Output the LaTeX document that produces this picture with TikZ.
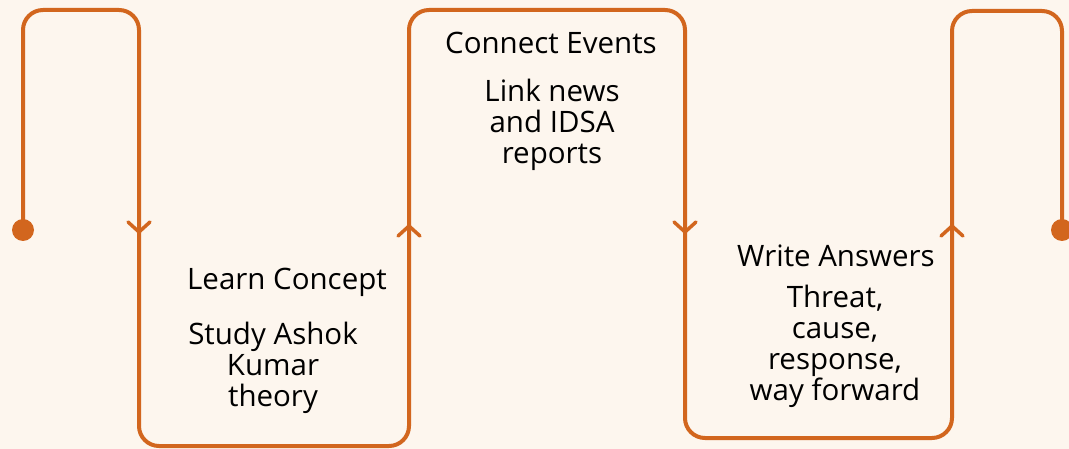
\documentclass[tikz,border=0pt]{standalone}
\usepackage{fontspec}
\setmainfont{Open Sans}
\definecolor{bgc}{HTML}{FDF6EE}
\definecolor{snake}{HTML}{D2661E}
\tikzset{
  track/.style={draw=snake,line width=4pt,rounded corners=20pt},
  chev/.style={draw=snake,line width=3.5pt,line cap=round,line join=miter},
  dotend/.style={circle,fill=snake,inner sep=0pt,minimum size=22pt},
  ttl/.style={font=\fontsize{29.5}{31}\selectfont,text=black,anchor=base,inner sep=0pt},
  dsc/.style={font=\fontsize{29.5}{31}\selectfont,text=black,anchor=base,align=center,inner sep=0pt},
}
\begin{document}
\begin{tikzpicture}[x=1pt,y=-1pt]
\fill[bgc] (0,0) rectangle (1069,449);
\useasboundingbox (0,0) rectangle (1069,449);
% path points
\node[dotend] (d1) at (23,230) {};
\node[dotend] (d2) at (1062,230) {};
\coordinate (p1) at (23,10);
\coordinate (p2) at (139,10);
\coordinate (p3) at (139,446);
\coordinate (p4) at (409,446);
\coordinate (p5) at (409,10);
\coordinate (p6) at (685,10);
\coordinate (p7) at (685,438);
\coordinate (p8) at (952,438);
\coordinate (p9) at (952,11);
\coordinate (p10) at (1062,11);
\path[track] (d1.center) -- (p1) -- (p2) -- (p3) -- (p4) -- (p5) -- (p6) -- (p7) -- (p8) -- (p9) -- (p10) -- (d2.center);
% chevrons
\draw[chev] (128,222) -- (139,232) -- (150,222);
\draw[chev] (398,236) -- (409,226) -- (420,236);
\draw[chev] (674,222) -- (685,232) -- (696,222);
\draw[chev] (941,236) -- (952,226) -- (963,236);
% texts (description nodes anchored at their last baseline)
\node[ttl] (t1) at (287,290) {Learn Concept};
\node[dsc] (s1) at (273,406) {Study Ashok\\Kumar\\theory};
\node[ttl] (t2) at (551,54) {Connect Events};
\node[dsc] (s2) at (552,164) {Link news\\and IDSA\\reports};
\node[ttl] (t3) at (836,267) {Write Answers};
\node[dsc] (s3) at (835,400) {Threat,\\cause,\\response,\\way forward};
\end{tikzpicture}
\end{document}
